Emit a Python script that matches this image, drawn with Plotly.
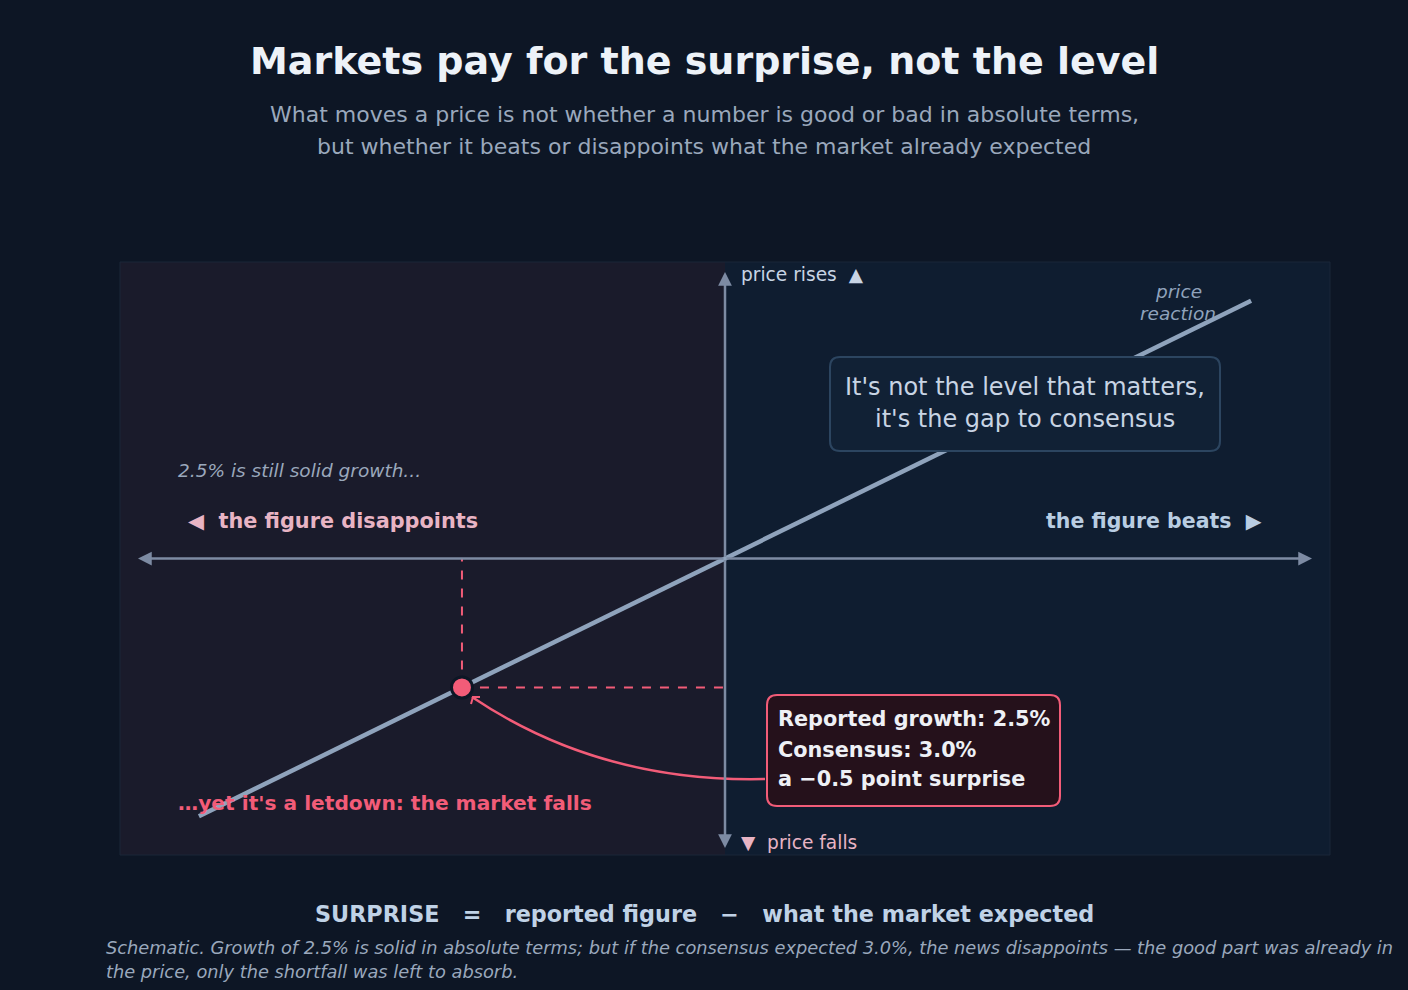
import plotly.graph_objects as go

# ---- data ----
reported_growth = 2.5
consensus = 3.0
surprise = reported_growth - consensus          # -0.5
line_x = [-1.0, 1.0]                            # surprise (schematic)
line_y = [-1.0, 1.0]                            # price reaction (schematic)
point_x = [surprise]
point_y = [surprise]

# ---- layout geometry ----
W, H = 1408, 990
L, R, T, B = 120, 1330, 262, 855
XR = [-1.15, 1.15]
YR = [-1.15, 1.15]

def px(x):  # pixel -> paper x
    return (x - L) / (R - L)

def py(y):  # pixel -> paper y
    return (B - y) / (B - T)

def dx(x):  # pixel -> data x
    return XR[0] + (x - L) / (R - L) * (XR[1] - XR[0])

def dy(y):
    return YR[1] - (y - T) / (B - T) * (YR[1] - YR[0])

def rrect(x0, y0, x1, y1, r):
    p = [
        f"M{px(x0 + r)},{py(y0)}",
        f"L{px(x1 - r)},{py(y0)}",
        f"Q{px(x1)},{py(y0)} {px(x1)},{py(y0 + r)}",
        f"L{px(x1)},{py(y1 - r)}",
        f"Q{px(x1)},{py(y1)} {px(x1 - r)},{py(y1)}",
        f"L{px(x0 + r)},{py(y1)}",
        f"Q{px(x0)},{py(y1)} {px(x0)},{py(y1 - r)}",
        f"L{px(x0)},{py(y0 + r)}",
        f"Q{px(x0)},{py(y0)} {px(x0 + r)},{py(y0)}",
        "Z",
    ]
    return " ".join(p)

BG = "#0d1625"
AXC = "#7d8ba3"
LINEC = "#8fa3bc"
RED = "#f25c78"
PINK = "#e8b4c4"
FONT = "DejaVu Sans"

fig = go.Figure()

fig.add_trace(go.Scatter(x=line_x, y=line_y, mode="lines",
                         line=dict(color=LINEC, width=4.5), hoverinfo="skip"))
fig.add_trace(go.Scatter(x=point_x, y=point_y, mode="markers",
                         marker=dict(color=RED, size=21, line=dict(color=BG, width=3)),
                         hoverinfo="skip"))

shapes = []
# background panels
shapes.append(dict(type="rect", xref="x", yref="paper", x0=XR[0], x1=0, y0=0, y1=1,
                   fillcolor="#1a1b2b", line=dict(width=0), layer="below"))
shapes.append(dict(type="rect", xref="x", yref="paper", x0=0, x1=XR[1], y0=0, y1=1,
                   fillcolor="#0f1d30", line=dict(width=0), layer="below"))
shapes.append(dict(type="rect", xref="paper", yref="paper", x0=0, x1=1, y0=0, y1=1,
                   fillcolor="rgba(0,0,0,0)", line=dict(color="#1b2638", width=1), layer="below"))
# dashed guides
shapes.append(dict(type="line", xref="x", yref="y", x0=point_x[0], x1=point_x[0],
                   y0=point_y[0], y1=0, line=dict(color=RED, width=2, dash="dash"), layer="below"))
shapes.append(dict(type="line", xref="x", yref="y", x0=point_x[0], x1=0,
                   y0=point_y[0], y1=point_y[0], line=dict(color=RED, width=2, dash="dash"), layer="below"))
# center message box
shapes.append(dict(type="path", xref="paper", yref="paper", path=rrect(830, 357, 1220, 451, 10),
                   fillcolor="#112135", line=dict(color="#2c4560", width=2), layer="above"))
# red callout box
shapes.append(dict(type="path", xref="paper", yref="paper", path=rrect(767, 695, 1060, 806, 10),
                   fillcolor="#25111b", line=dict(color=RED, width=2), layer="above"))
# curved connector
shapes.append(dict(type="path", xref="paper", yref="paper",
                   path=f"M{px(765)},{py(779)} Q{px(600)},{py(783)} {px(472)},{py(697)}",
                   line=dict(color=RED, width=2.5), layer="above"))
shapes.append(dict(type="path", xref="paper", yref="paper",
                   path=f"M{px(471)},{py(704)} L{px(473)},{py(697)} L{px(480)},{py(697)}",
                   line=dict(color=RED, width=2), layer="above"))

ann = []
# axis arrows
for (tx, ty) in [(dx(1312), 0), (dx(138), 0), (0, dy(272)), (0, dy(848))]:
    ann.append(dict(x=tx, y=ty, ax=0, ay=0, xref="x", yref="y", axref="x", ayref="y",
                    text="", showarrow=True, arrowhead=2, arrowsize=1.1, arrowwidth=2.5,
                    arrowcolor=AXC, standoff=0))

def txt(text, x, y, size, color, xanchor="center", bold=False, italic=False, align="center"):
    t = text
    if bold:
        t = f"<b>{t}</b>"
    if italic:
        t = f"<i>{t}</i>"
    if xanchor == "left":
        x -= 2
    elif xanchor == "right":
        x += 2
    ann.append(dict(text=t, x=px(x), y=py(y), xref="paper", yref="paper",
                    xanchor=xanchor, yanchor="middle", showarrow=False, align=align,
                    font=dict(family=FONT, size=size, color=color)))

txt("Markets pay for the surprise, not the level", 704, 61, 38, "#edf2f8", bold=True)
txt("What moves a price is not whether a number is good or bad in absolute terms,", 704, 115, 22, "#9aa8bc")
txt("but whether it beats or disappoints what the market already expected", 704, 146, 22, "#9aa8bc")

txt("2.5% is still solid growth...", 178, 470, 18.5, "#9aa8bc", xanchor="left", italic=True)
txt("◀  the figure disappoints", 188, 521, 20.8, PINK, xanchor="left", bold=True)
txt("the figure beats  ▶", 1262, 521, 20.5, "#b9cde2", xanchor="right", bold=True)
txt("price rises  ▲", 741, 274, 18.6, "#c8d4e4", xanchor="left")
txt("▼  price falls", 741, 842, 18.6, PINK, xanchor="left")
txt("price", 1178, 291, 18.5, LINEC, italic=True)
txt("reaction", 1178, 313, 18.5, LINEC, italic=True)
txt("It's not the level that matters,", 1025, 387, 24, "#c8d4e4")
txt("it's the gap to consensus", 1025, 419, 24, "#c8d4e4")
txt(f"Reported growth: {reported_growth:.1f}%", 778, 719, 20.8, "#eef0f5", xanchor="left", bold=True)
txt(f"Consensus: {consensus:.1f}%", 778, 750, 20.8, "#eef0f5", xanchor="left", bold=True)
txt(f"a \u2212{abs(surprise):.1f} point surprise", 778, 779, 20.8, "#eef0f5", xanchor="left", bold=True)
txt("…yet it's a letdown: the market falls", 178, 803, 20.2, RED, xanchor="left", bold=True)

txt("SURPRISE   =   reported figure   \u2212   what the market expected", 704, 914, 22.3, "#c0d2e6", bold=True)
txt("Schematic. Growth of 2.5% is solid in absolute terms; but if the consensus expected 3.0%, the news disappoints — the good part was already in",
    106, 947, 17.8, "#9aa8bc", xanchor="left", italic=True)
txt("the price, only the shortfall was left to absorb.", 106, 971, 17.8, "#9aa8bc", xanchor="left", italic=True)

fig.update_layout(
    width=W, height=H,
    margin=dict(l=L, r=W - R, t=T, b=H - B),
    paper_bgcolor=BG, plot_bgcolor=BG,
    showlegend=False,
    xaxis=dict(range=XR, visible=False, fixedrange=True),
    yaxis=dict(range=YR, visible=False, fixedrange=True),
    shapes=shapes, annotations=ann,
    font=dict(family=FONT),
)

fig.write_html("out.html", config={"displayModeBar": False})
